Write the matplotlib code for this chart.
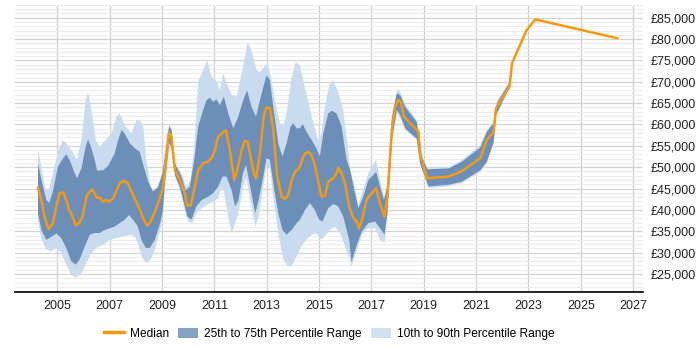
import numpy as np
import matplotlib
matplotlib.use('Agg')
import matplotlib.pyplot as plt
from matplotlib.ticker import MultipleLocator, FuncFormatter
from matplotlib.patches import Patch
from matplotlib.lines import Line2D

# %% podaci (vrednosti u hiljadama funti)

med_year = [2004.26, 2004.39, 2004.51, 2004.67, 2004.83, 2004.96, 2005.09, 2005.22, 2005.34, 2005.45,
            2005.53, 2005.70, 2005.83, 2005.96, 2006.11, 2006.24, 2006.34, 2006.49, 2006.62, 2006.75,
            2006.85, 2006.98, 2007.13, 2007.26, 2007.38, 2007.51, 2007.68, 2007.83, 2008.00, 2008.15,
            2008.30, 2008.43, 2008.56, 2008.72, 2008.89, 2009.04, 2009.14, 2009.26, 2009.36, 2009.49,
            2009.68, 2009.87, 2009.96, 2010.09, 2010.25, 2010.38, 2010.57, 2010.76, 2010.89, 2011.02,
            2011.14, 2011.31, 2011.44, 2011.59, 2011.76, 2011.87, 2012.04, 2012.16, 2012.27, 2012.38,
            2012.51, 2012.59, 2012.74, 2012.89, 2012.99, 2013.12, 2013.25, 2013.40, 2013.57, 2013.69,
            2013.82, 2013.95, 2014.08, 2014.24, 2014.37, 2014.46, 2014.58, 2014.71, 2014.84, 2014.97,
            2015.09, 2015.22, 2015.35, 2015.54, 2015.67, 2015.73, 2015.86, 2015.99, 2016.15, 2016.31,
            2016.44, 2016.53, 2016.67, 2016.82, 2017.01, 2017.18, 2017.33, 2017.50, 2017.61, 2017.78,
            2017.90, 2018.03, 2018.12, 2018.25, 2018.80, 2018.86, 2019.12, 2019.95, 2020.46, 2021.16,
            2021.41, 2021.67, 2021.76, 2022.28, 2022.37, 2022.92, 2023.26, 2026.39]
med_val = [45.2, 42.3, 38.4, 35.5, 36.9, 40.8, 43.9, 44.1, 42.3, 40.0,
           39.2, 36.4, 36.9, 38.4, 43.1, 44.3, 44.8, 42.9, 42.9, 41.9,
           42.3, 41.9, 42.7, 44.5, 46.2, 46.8, 46.4, 44.3, 42.1, 40.0,
           37.7, 36.3, 37.3, 39.5, 42.3, 45.4, 50.9, 58.0, 57.1, 49.3,
           47.0, 43.9, 41.0, 41.0, 45.4, 49.3, 50.9, 51.3, 52.1, 54.0,
           57.1, 58.0, 58.7, 54.0, 47.0, 49.3, 54.0, 56.1, 56.0, 52.5,
           48.6, 47.4, 53.2, 62.2, 64.0, 63.8, 58.7, 47.8, 43.1, 42.5,
           43.5, 47.0, 48.9, 49.7, 52.1, 53.2, 53.6, 52.8, 50.5, 46.6,
           43.1, 43.3, 46.6, 47.4, 48.6, 49.9, 48.6, 46.2, 40.8, 38.1,
           37.3, 35.6, 38.5, 42.5, 43.9, 45.1, 41.5, 38.4, 43.1, 58.7,
           64.1, 65.7, 65.3, 61.8, 58.3, 53.2, 47.4, 47.8, 49.1, 52.1,
           56.4, 58.3, 63.8, 69.0, 74.3, 82.0, 84.6, 80.2]

p75_year = [2004.26, 2004.39, 2004.58, 2004.69, 2004.83, 2005.02, 2005.22, 2005.34, 2005.47, 2005.62,
            2005.75, 2005.92, 2006.08, 2006.17, 2006.26, 2006.43, 2006.52, 2006.75, 2006.94, 2007.19,
            2007.32, 2007.45, 2007.57, 2007.77, 2007.96, 2008.15, 2008.30, 2008.47, 2008.66, 2008.85,
            2009.02, 2009.17, 2009.27, 2009.36, 2009.49, 2009.74, 2009.90, 2010.06, 2010.23, 2010.38,
            2010.57, 2010.70, 2010.83, 2010.95, 2011.08, 2011.21, 2011.36, 2011.53, 2011.72, 2011.91,
            2012.10, 2012.25, 2012.42, 2012.59, 2012.74, 2012.87, 2012.99, 2013.12, 2013.25, 2013.44,
            2013.60, 2013.76, 2013.91, 2014.01, 2014.14, 2014.27, 2014.37, 2014.52, 2014.71, 2014.90,
            2015.03, 2015.16, 2015.35, 2015.48, 2015.67, 2015.86, 2016.05, 2016.18, 2016.37, 2016.50,
            2016.69, 2016.88, 2017.18, 2017.33, 2017.48, 2017.61, 2017.78, 2017.97, 2018.10, 2018.29,
            2018.73, 2018.80, 2018.92, 2019.14, 2019.95, 2020.46, 2021.16, 2021.41, 2021.67, 2021.80,
            2022.24, 2022.37]
p75_val = [50.9, 47.0, 42.3, 41.6, 44.3, 50.1, 52.1, 53.0, 51.7, 49.3,
           47.4, 49.7, 54.8, 56.5, 55.2, 51.7, 49.2, 49.3, 50.3, 53.2,
           56.3, 58.7, 57.9, 55.6, 54.4, 53.6, 50.1, 46.6, 44.3, 45.4,
           48.6, 54.8, 59.5, 58.7, 50.9, 47.8, 44.6, 45.4, 51.7, 59.5,
           63.4, 65.7, 66.3, 65.3, 65.9, 64.5, 66.5, 62.6, 59.1, 61.8,
           65.7, 68.0, 64.1, 61.8, 65.7, 68.8, 71.5, 70.4, 64.1, 55.6,
           52.5, 55.6, 59.5, 60.3, 59.1, 59.1, 60.1, 58.3, 56.4, 54.4,
           52.5, 57.9, 62.6, 63.2, 62.6, 59.5, 51.7, 49.5, 43.9, 40.4,
           43.1, 47.0, 48.9, 45.4, 42.3, 45.4, 61.4, 67.3, 66.9, 64.1,
           60.6, 57.9, 52.5, 49.5, 49.7, 51.3, 54.6, 58.3, 60.3, 65.1,
           69.4, 74.3]

p25_year = [2004.26, 2004.39, 2004.58, 2004.77, 2004.96, 2005.15, 2005.34, 2005.53, 2005.70, 2005.85,
            2006.05, 2006.24, 2006.43, 2006.62, 2006.81, 2007.00, 2007.19, 2007.38, 2007.57, 2007.74,
            2007.89, 2008.08, 2008.21, 2008.38, 2008.53, 2008.72, 2008.89, 2009.02, 2009.14, 2009.27,
            2009.36, 2009.49, 2009.68, 2009.87, 2009.96, 2010.12, 2010.31, 2010.51, 2010.76, 2010.95,
            2011.14, 2011.31, 2011.46, 2011.66, 2011.79, 2011.92, 2012.09, 2012.21, 2012.37, 2012.56,
            2012.69, 2012.87, 2012.99, 2013.12, 2013.27, 2013.44, 2013.60, 2013.76, 2013.95, 2014.14,
            2014.27, 2014.46, 2014.65, 2014.84, 2015.00, 2015.13, 2015.35, 2015.54, 2015.73, 2015.92,
            2016.15, 2016.24, 2016.44, 2016.63, 2016.88, 2017.14, 2017.33, 2017.50, 2017.61, 2017.78,
            2017.97, 2018.10, 2018.29, 2018.73, 2018.86, 2019.18, 2019.95, 2020.46, 2021.16, 2021.41,
            2021.67, 2021.76, 2022.18, 2022.28, 2022.37]
p25_val = [39.2, 35.3, 33.0, 33.7, 34.5, 33.4, 31.1, 28.0, 27.2, 28.4,
           31.5, 34.2, 34.6, 34.6, 35.3, 35.7, 36.1, 36.9, 37.7, 38.8,
           37.7, 36.1, 33.0, 31.1, 31.1, 33.0, 36.1, 39.2, 48.6, 55.6,
           54.8, 48.2, 45.4, 40.8, 38.5, 37.7, 40.8, 42.3, 43.1, 43.9,
           45.4, 47.8, 47.8, 44.6, 40.8, 42.3, 48.6, 50.5, 45.4, 39.2,
           42.3, 47.8, 52.1, 51.7, 45.4, 39.2, 35.3, 34.2, 35.3, 36.9,
           37.7, 40.0, 41.6, 40.0, 37.7, 37.3, 40.4, 41.4, 40.8, 38.5,
           33.0, 27.9, 31.8, 34.9, 36.9, 37.3, 35.7, 34.2, 39.2, 56.4,
           63.4, 62.2, 59.1, 56.7, 50.9, 45.5, 45.9, 46.6, 49.3, 51.3,
           55.9, 62.2, 67.6, 68.4, 74.3]

p90_year = [2004.26, 2004.39, 2004.55, 2004.67, 2004.83, 2005.02, 2005.22, 2005.40, 2005.58, 2005.75,
            2005.92, 2006.08, 2006.17, 2006.30, 2006.47, 2006.62, 2006.85, 2007.07, 2007.26, 2007.38,
            2007.57, 2007.83, 2008.02, 2008.15, 2008.28, 2008.40, 2008.59, 2008.77, 2008.98, 2009.14,
            2009.27, 2009.36, 2009.49, 2009.74, 2009.93, 2010.09, 2010.25, 2010.38, 2010.57, 2010.72,
            2010.89, 2011.06, 2011.21, 2011.34, 2011.47, 2011.66, 2011.85, 2012.09, 2012.27, 2012.42,
            2012.61, 2012.76, 2012.93, 2013.06, 2013.18, 2013.31, 2013.50, 2013.63, 2013.78, 2013.95,
            2014.11, 2014.27, 2014.42, 2014.58, 2014.78, 2014.97, 2015.09, 2015.22, 2015.39, 2015.54,
            2015.73, 2015.92, 2016.11, 2016.18, 2016.37, 2016.50, 2016.88, 2017.18, 2017.33, 2017.48,
            2017.61, 2017.78, 2018.00, 2018.10, 2018.29, 2018.73, 2018.80, 2018.92, 2019.14, 2019.95,
            2020.46, 2021.16, 2021.41, 2021.67, 2021.80, 2022.24, 2022.37]
p90_val = [54.0, 50.1, 44.7, 44.7, 48.6, 53.6, 56.4, 55.2, 53.6, 51.7,
           56.4, 65.7, 67.6, 63.4, 56.4, 54.8, 56.4, 57.9, 61.8, 62.6,
           59.8, 57.9, 61.0, 61.2, 59.5, 51.7, 44.3, 44.7, 47.8, 55.6,
           60.1, 59.1, 50.9, 48.6, 45.4, 47.0, 56.4, 70.0, 72.7, 75.0,
           71.1, 70.4, 68.0, 71.9, 69.6, 66.9, 66.5, 73.5, 79.3, 77.4,
           72.7, 72.3, 73.8, 73.8, 70.4, 65.7, 60.3, 59.5, 63.4, 71.1,
           74.6, 73.8, 69.6, 65.7, 60.3, 56.4, 57.9, 64.1, 69.2, 70.4,
           67.6, 63.4, 54.0, 49.7, 45.0, 41.2, 48.6, 51.7, 47.0, 43.1,
           46.0, 62.6, 68.4, 67.6, 64.8, 61.0, 58.5, 53.0, 49.7, 49.9,
           51.7, 55.2, 58.7, 60.7, 65.5, 69.8, 74.3]

p10_year = [2004.26, 2004.39, 2004.58, 2004.77, 2004.96, 2005.15, 2005.34, 2005.53, 2005.72, 2005.92,
            2006.11, 2006.30, 2006.49, 2006.75, 2007.00, 2007.26, 2007.51, 2007.77, 2007.96, 2008.08,
            2008.25, 2008.40, 2008.56, 2008.72, 2008.89, 2009.02, 2009.14, 2009.27, 2009.36, 2009.49,
            2009.68, 2009.87, 2010.00, 2010.16, 2010.31, 2010.51, 2010.70, 2010.95, 2011.14, 2011.27,
            2011.36, 2011.53, 2011.66, 2011.79, 2011.92, 2012.09, 2012.21, 2012.37, 2012.56, 2012.69,
            2012.87, 2012.99, 2013.12, 2013.27, 2013.44, 2013.63, 2013.78, 2013.95, 2014.14, 2014.33,
            2014.52, 2014.71, 2014.90, 2015.09, 2015.26, 2015.41, 2015.60, 2015.80, 2015.99, 2016.15,
            2016.24, 2016.44, 2016.63, 2016.88, 2017.14, 2017.33, 2017.50, 2017.61, 2017.78, 2017.97,
            2018.10, 2018.29, 2018.73, 2018.86, 2019.18, 2019.95, 2020.46, 2021.16, 2021.41, 2021.67,
            2021.76, 2022.18, 2022.37]
p10_val = [37.7, 33.0, 30.7, 30.3, 31.1, 29.9, 27.2, 24.8, 24.1, 25.2,
           27.6, 29.9, 31.1, 31.8, 33.0, 33.4, 33.8, 34.2, 33.8, 32.2,
           28.7, 27.6, 28.3, 30.7, 34.5, 37.7, 47.0, 54.4, 54.0, 47.8,
           44.6, 40.0, 37.3, 36.9, 39.2, 40.4, 41.2, 41.9, 42.7, 45.4,
           44.3, 38.4, 34.5, 36.9, 39.2, 45.4, 47.8, 42.3, 36.1, 38.5,
           45.4, 50.5, 49.7, 42.3, 34.5, 28.4, 26.8, 26.8, 29.1, 31.5,
           33.0, 34.2, 34.5, 33.0, 34.2, 35.3, 36.1, 34.5, 31.5, 28.8,
           26.8, 30.3, 34.2, 35.7, 35.7, 33.0, 32.2, 38.5, 55.6, 62.6,
           61.4, 58.7, 56.4, 50.5, 45.1, 45.5, 46.3, 48.9, 50.9, 55.5,
           61.8, 67.2, 74.3]

x_ticks = list(range(2005, 2028, 2))

# %% grafik

plt.rcParams['font.family'] = ['Liberation Sans', 'DejaVu Sans']

fig = plt.figure(figsize=(7, 3.5), dpi=100)
ax = fig.add_axes([0.021, 0.166, 0.897, 0.820])

def band(ax, xh, yh, xl, yl, color):
    xs = np.r_[xh, xl[::-1]]
    ys = np.r_[yh, yl[::-1]] * 1000
    ax.fill(xs, ys, color=color, lw=0, zorder=2)

band(ax, np.array(p90_year), np.array(p90_val), np.array(p10_year), np.array(p10_val), '#c9dbee')
band(ax, np.array(p75_year), np.array(p75_val), np.array(p25_year), np.array(p25_val), '#6b8fb8')
ax.plot(med_year, np.array(med_val) * 1000, color='#f7990c', lw=1.8, zorder=3)

ax.set_xlim(2003.37, 2027.36)
ax.set_ylim(20800, 88000)

ax.set_xticks(x_ticks)
ax.set_xticklabels([str(y) for y in x_ticks])
ax.yaxis.set_major_locator(MultipleLocator(5000))
ax.yaxis.set_minor_locator(MultipleLocator(1000))
ax.yaxis.set_major_formatter(FuncFormatter(lambda v, p: '£{:,.0f}'.format(v) if v >= 25000 else ''))
ax.yaxis.tick_right()
ax.tick_params(axis='both', which='both', length=0, labelsize=9, colors='#222222')
ax.tick_params(axis='x', pad=6)
ax.tick_params(axis='y', pad=6)

ax.grid(axis='x', color='#cccccc', lw=0.9, zorder=0)
ax.grid(axis='y', which='major', color='#d4d4d4', lw=0.9, zorder=0)
ax.grid(axis='y', which='minor', color='#ececec', lw=0.8, zorder=0)
ax.set_axisbelow(True)

for s in ['top', 'left', 'right']:
    ax.spines[s].set_visible(False)
ax.spines['bottom'].set_color('black')
ax.spines['bottom'].set_linewidth(1.2)

handles = [
    Line2D([0], [0], color='#f7990c', lw=2.5),
    Patch(facecolor='#86a3c4', edgecolor='none'),
    Patch(facecolor='#d0e0f0', edgecolor='none'),
]
labels = ['Median', '25th to 75th Percentile Range', '10th to 90th Percentile Range']
fig.legend(handles, labels, loc='center', bbox_to_anchor=(0.470, 0.046), ncol=3,
           frameon=False, fontsize=8.6, handlelength=1.68, handleheight=1.0,
           columnspacing=0.76, handletextpad=0.5)

fig.savefig('out.png', dpi=100)
